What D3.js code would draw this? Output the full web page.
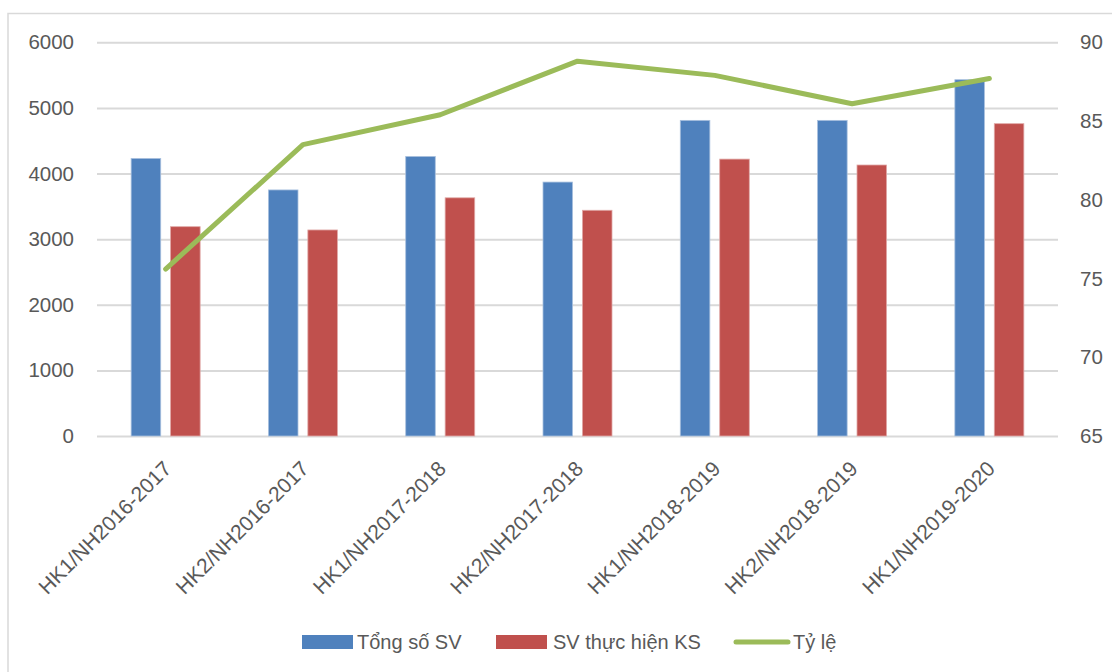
<!DOCTYPE html>
<html>
<head>
<meta charset="utf-8">
<script src="https://cdn.jsdelivr.net/npm/d3@7"></script>
<style>
  html, body { margin: 0; padding: 0; background: #fff; }
  svg { display: block; }
  text { font-family: "Liberation Sans", Arial, sans-serif; fill: #595959; }
</style>
</head>
<body>
<svg id="chart" width="1112" height="672"></svg>
<script>
// Semesters (học kỳ / năm học)
const categories = [
  "HK1/NH2016-2017", "HK2/NH2016-2017", "HK1/NH2017-2018", "HK2/NH2017-2018",
  "HK1/NH2018-2019", "HK2/NH2018-2019", "HK1/NH2019-2020"
];
// Total students
const tongSoSV = [4230, 3750, 4260, 3870, 4810, 4810, 5430];
// Students who took the survey
const svThucHienKS = [3190, 3140, 3630, 3440, 4220, 4130, 4760];
// Participation rate (%)
const tyLe = [75.6, 83.5, 85.4, 88.8, 87.9, 86.1, 87.7];

const leftTicks = [0, 1000, 2000, 3000, 4000, 5000, 6000];
const rightTicks = [65, 70, 75, 80, 85, 90];

const seriesNames = ["Tổng số SV", "SV thực hiện KS", "Tỷ lệ"];
const colors = { blue: "#4F81BD", red: "#C0504D", green: "#9BBB59" };

const svg = d3.select("#chart");

// Chart frame
svg.append("rect")
  .attr("x", 8).attr("y", 13.5)
  .attr("width", 1130).attr("height", 700)
  .attr("fill", "none").attr("stroke", "#D9D9D9").attr("stroke-width", 1.5);

const plot = { left: 97, right: 1058, top: 42.3, bottom: 436 };

const x = d3.scaleBand().domain(categories).range([plot.left, plot.right]).padding(0);
const yL = d3.scaleLinear().domain([0, 6000]).range([plot.bottom, plot.top]);
const yR = d3.scaleLinear().domain([65, 90]).range([plot.bottom, plot.top]);

const groupW = 69;
const sub = d3.scaleBand().domain(["total", "done"]).range([0, groupW]).paddingInner(0.25);
const groupX = c => x(c) + (x.bandwidth() - groupW) / 2;

// Gridlines
svg.append("g")
  .attr("transform", `translate(${plot.left},0)`)
  .call(d3.axisLeft(yL).tickValues(leftTicks).tickSize(-(plot.right - plot.left)).tickFormat(""))
  .call(g => g.select(".domain").remove())
  .call(g => g.selectAll("line").attr("stroke", "#D9D9D9").attr("stroke-width", 2));

// Left axis labels
svg.append("g")
  .attr("transform", `translate(74,0)`)
  .call(d3.axisLeft(yL).tickValues(leftTicks).tickSize(0).tickPadding(0).tickFormat(d3.format("d")))
  .call(g => g.select(".domain").remove())
  .call(g => g.selectAll("text").style("font-size", "20.5px").attr("fill", "#595959"));

// Right axis labels
svg.append("g")
  .attr("transform", `translate(1080,0)`)
  .call(d3.axisRight(yR).tickValues(rightTicks).tickSize(0).tickPadding(0).tickFormat(d3.format("d")))
  .call(g => g.select(".domain").remove())
  .call(g => g.selectAll("text").style("font-size", "20.5px").attr("fill", "#595959"));

// Bars
const bars = svg.append("g");
bars.selectAll("rect.total").data(categories).join("rect")
  .attr("class", "total")
  .attr("x", (c) => groupX(c) + sub("total"))
  .attr("width", sub.bandwidth())
  .attr("y", (c, i) => yL(tongSoSV[i]))
  .attr("height", (c, i) => yL(0) - yL(tongSoSV[i]))
  .attr("fill", colors.blue)
  .attr("stroke", "#A9C0DE").attr("stroke-width", 0.8);

bars.selectAll("rect.done").data(categories).join("rect")
  .attr("class", "done")
  .attr("x", (c) => groupX(c) + sub("done"))
  .attr("width", sub.bandwidth())
  .attr("y", (c, i) => yL(svThucHienKS[i]))
  .attr("height", (c, i) => yL(0) - yL(svThucHienKS[i]))
  .attr("fill", colors.red)
  .attr("stroke", "#E0A9A7").attr("stroke-width", 0.8);

// Rate line
const line = d3.line()
  .x((d, i) => x(categories[i]) + x.bandwidth() / 2)
  .y(d => yR(d));
svg.append("path")
  .datum(tyLe)
  .attr("d", line)
  .attr("fill", "none")
  .attr("stroke", colors.green)
  .attr("stroke-width", 5)
  .attr("stroke-linejoin", "round")
  .attr("stroke-linecap", "round");

// Category labels, rotated
svg.append("g").selectAll("text").data(categories).join("text")
  .attr("transform", c => `translate(${x(c) + x.bandwidth() / 2 + 7},${470}) rotate(-45)`)
  .attr("text-anchor", "end")
  .style("font-size", "21px")
  .text(c => c);

// Legend
const legend = svg.append("g");
const items = [
  { name: seriesNames[0], type: "rect", color: colors.blue, x: 302, tx: 357 },
  { name: seriesNames[1], type: "rect", color: colors.red, x: 496, tx: 553 },
  { name: seriesNames[2], type: "line", color: colors.green, x: 734, tx: 793 }
];
items.forEach(it => {
  if (it.type === "rect") {
    legend.append("rect").attr("x", it.x).attr("y", 635).attr("width", 51).attr("height", 14).attr("fill", it.color);
  } else {
    legend.append("line").attr("x1", it.x + 2).attr("x2", it.x + 54).attr("y1", 642).attr("y2", 642)
      .attr("stroke", it.color).attr("stroke-width", 5).attr("stroke-linecap", "round");
  }
  legend.append("text").attr("x", it.tx).attr("y", 649).style("font-size", "20px").text(it.name);
});
</script>
</body>
</html>
